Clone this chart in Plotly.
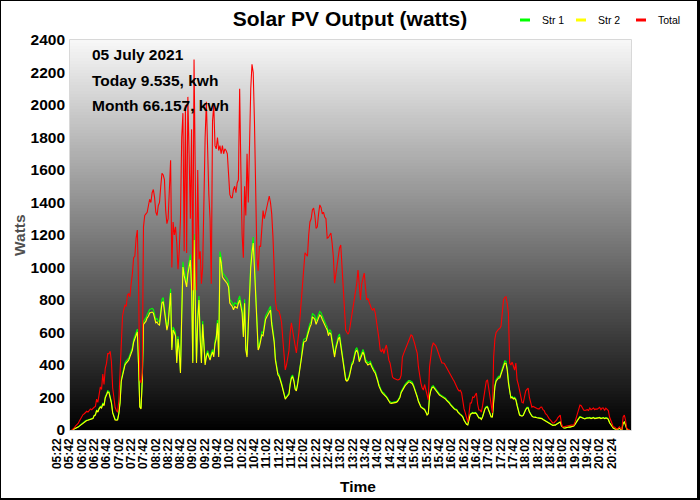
import plotly.graph_objects as go

# ---------------- data ----------------
tick_labels = ["05:22", "05:42", "06:02", "06:22", "06:42", "07:02", "07:22", "07:42",
               "08:02", "08:22", "08:42", "09:02", "09:22", "09:42", "10:02", "10:22",
               "10:42", "11:02", "11:22", "11:42", "12:02", "12:22", "12:42", "13:02",
               "13:22", "13:42", "14:02", "14:22", "14:42", "15:02", "15:22", "15:42",
               "16:02", "16:22", "16:42", "17:02", "17:22", "17:42", "18:02", "18:22",
               "18:42", "19:02", "19:22", "19:42", "20:02", "20:24"]
tick_every = 10  # one label every 10 samples (2-minute samples)

total = [
    0, 5, 15, 25, 30, 40, 55, 70, 85, 95,
    100, 105, 115, 110, 120, 130, 125, 135, 140, 145,
    190, 170, 230, 265, 250, 345, 280, 380, 410, 470,
    470, 485, 420, 260, 200, 140, 120, 110, 180, 330,
    560, 700, 740, 770, 760, 830, 840, 820, 900, 960,
    1060, 1070, 1180, 1230, 900, 310, 290, 350, 1250, 1320,
    1330, 1340, 1380, 1420, 1400, 1460, 1480, 1430, 1340, 1320,
    1380, 1400, 1500, 1580, 1570, 1540, 1350, 1270, 1300, 1480,
    1660, 1000, 1280, 1200, 1250, 1150, 990, 1100, 1300, 1800,
    1950, 1100, 2000, 1090, 2050, 1700, 1300, 1850, 860, 2280,
    1400, 860, 1600, 1050, 1100, 900, 1000, 1500, 1800, 2020,
    1700, 1450, 1300, 900, 1900, 2000, 1750, 1730, 1800, 1720,
    1750, 1700, 1750, 1700, 1730, 1720, 1700, 1560, 1450, 1430,
    1430, 1480, 1500, 1460, 1520, 1540, 2100, 1600, 1200, 1060,
    1500, 1320, 1700, 1400, 1800, 2100, 2250, 2200, 1900, 1400,
    1060, 980, 1130, 1130, 1250, 1350, 1300, 1340, 1380, 1415,
    1440, 1400, 1330, 1190, 1000, 800, 740, 735, 730, 700,
    660, 560, 430, 370, 400, 450, 490, 600, 660, 610,
    560, 500, 474, 540, 600, 700, 790, 904, 1000, 1090,
    1080, 1070, 1200, 1280, 1300, 1354, 1366, 1320, 1240, 1250,
    1330, 1385, 1370, 1330, 1340, 1310, 1300, 1180, 1185, 1200,
    1212, 1150, 1065, 904, 960, 1030, 1089, 1120, 1138, 1000,
    850, 757, 615, 600, 590, 610, 660, 720, 760, 820,
    880, 904, 985, 880, 800, 900, 940, 966, 880, 800,
    810, 790, 770, 745, 738, 750, 720, 670, 634, 560,
    492, 480, 500, 470, 500, 523, 480, 430, 412, 370,
    326, 318, 315, 310, 308, 310, 315, 338, 449, 470,
    490, 511, 530, 550, 566, 585, 580, 560, 530, 500,
    474, 388, 330, 289, 260, 246, 280, 250, 203, 185,
    388, 470, 511, 535, 530, 520, 500, 480, 449, 430,
    412, 412, 410, 395, 380, 370, 357, 340, 320, 312,
    300, 280, 265, 250, 240, 245, 228, 166, 130, 105,
    74, 49, 100, 166, 166, 203, 200, 215, 228, 160,
    123, 123, 110, 150, 200, 260, 300, 308, 250, 185,
    130, 105, 449, 560, 600, 615, 620, 625, 640, 720,
    800, 815, 820, 780, 720, 412, 400, 418, 390, 369,
    412, 308, 280, 246, 200, 170, 166, 210, 240, 250,
    258, 200, 160, 141, 145, 140, 135, 135, 130, 130,
    140, 141, 125, 120, 100, 95, 80, 70, 62, 50,
    43, 45, 50, 60, 75, 85, 92, 40, 18, 20,
    22, 25, 25, 28, 28, 30, 30, 31, 50, 80,
    105, 130, 154, 150, 135, 123, 120, 125, 125, 120,
    135, 125, 128, 135, 125, 130, 128, 135, 140, 125,
    135, 135, 120, 135, 130, 120, 80, 55, 30, 20,
    18, 12, 5, 12, 20, 10, 5, 80, 92, 60, 10, 5, 0,
]

str2 = [
    0, 3, 6, 10, 14, 18, 24, 30, 36, 42,
    50, 55, 58, 60, 62, 65, 68, 70, 88, 92,
    120, 110, 130, 141, 135, 160, 150, 197, 215, 234,
    230, 200, 166, 105, 80, 62, 60, 62, 100, 166,
    300, 340, 380, 400, 412, 420, 430, 450, 470, 492,
    540, 560, 590, 603, 400, 141, 130, 300, 650, 657,
    670, 690, 700, 720, 722, 726, 720, 690, 660, 665,
    650, 646, 720, 781, 790, 740, 680, 615, 650, 760,
    843, 492, 615, 600, 580, 412, 560, 480, 351, 700,
    1003, 950, 900, 880, 960, 1000, 1046, 880, 412, 1169,
    650, 412, 677, 800, 560, 412, 650, 520, 400, 450,
    474, 450, 430, 460, 480, 450, 530, 560, 657, 450,
    1065, 1030, 942, 930, 920, 910, 900, 880, 781, 770,
    760, 740, 760, 755, 750, 780, 800, 760, 720, 572,
    780, 492, 449, 640, 880, 1000, 1089, 1151, 1000, 800,
    650, 492, 510, 560, 585, 580, 650, 680, 695, 710,
    730, 738, 650, 600, 540, 430, 369, 340, 330, 310,
    280, 250, 220, 190, 200, 210, 220, 280, 320, 326,
    300, 250, 240, 280, 330, 380, 430, 510, 541, 545,
    550, 580, 610, 634, 650, 695, 690, 680, 650, 665,
    690, 708, 700, 680, 660, 640, 630, 615, 580, 600,
    590, 540, 492, 449, 500, 540, 560, 572, 520, 450,
    388, 340, 308, 300, 308, 330, 370, 400, 412, 450,
    480, 492, 470, 420, 440, 470, 480, 460, 420, 412,
    400, 405, 410, 390, 369, 360, 350, 330, 300, 270,
    246, 235, 225, 220, 210, 203, 190, 175, 166, 164,
    165, 166, 166, 170, 175, 185, 200, 230, 246, 260,
    270, 280, 290, 295, 295, 290, 285, 270, 250, 225,
    203, 175, 155, 141, 135, 130, 125, 110, 92, 100,
    203, 240, 260, 265, 255, 240, 230, 220, 215, 210,
    205, 200, 198, 190, 180, 175, 166, 155, 145, 135,
    130, 125, 123, 110, 100, 95, 88, 80, 60, 45,
    35, 31, 60, 95, 100, 105, 102, 105, 100, 85,
    74, 74, 65, 80, 110, 130, 140, 141, 120, 95,
    80, 80, 180, 265, 300, 310, 320, 320, 340, 370,
    390, 412, 410, 370, 289, 230, 197, 200, 190, 195,
    185, 150, 120, 92, 88, 85, 90, 110, 125, 135,
    135, 110, 95, 85, 80, 80, 78, 75, 74, 74,
    72, 70, 65, 60, 55, 50, 45, 40, 35, 30,
    28, 30, 30, 35, 40, 45, 49, 25, 15, 12,
    12, 15, 15, 18, 18, 20, 22, 25, 35, 50,
    60, 70, 80, 78, 72, 70, 68, 72, 74, 72,
    75, 70, 72, 76, 70, 72, 74, 75, 76, 70,
    74, 75, 70, 74, 72, 65, 45, 31, 20, 12,
    8, 5, 3, 6, 10, 5, 3, 40, 49, 30, 5, 2, 0,
]

str1 = [
    0, 3, 7, 11, 15, 19, 25, 32, 38, 44,
    52, 57, 60, 62, 64, 67, 70, 72, 90, 95,
    124, 114, 134, 146, 140, 166, 156, 204, 222, 242,
    238, 208, 172, 110, 84, 66, 63, 66, 105, 172,
    310, 352, 392, 412, 425, 433, 443, 464, 484, 507,
    556, 577, 608, 621, 412, 146, 135, 310, 668, 676,
    690, 710, 722, 742, 744, 748, 742, 712, 680, 686,
    670, 666, 742, 805, 815, 762, 701, 634, 670, 783,
    869, 507, 634, 618, 598, 425, 577, 495, 362, 722,
    1035, 980, 928, 907, 990, 1031, 1080, 907, 425, 1205,
    670, 425, 698, 825, 577, 425, 670, 536, 412, 464,
    489, 464, 443, 474, 495, 464, 546, 577, 677, 464,
    1098, 1062, 971, 959, 948, 938, 928, 907, 805, 794,
    783, 763, 783, 778, 773, 804, 825, 783, 742, 590,
    804, 507, 463, 660, 907, 1031, 1122, 1187, 1031, 825,
    670, 507, 526, 577, 603, 598, 670, 701, 716, 732,
    752, 761, 670, 618, 557, 443, 380, 350, 340, 320,
    289, 258, 227, 196, 206, 216, 227, 289, 330, 336,
    309, 258, 247, 289, 340, 392, 443, 526, 558, 562,
    567, 598, 629, 654, 670, 716, 711, 701, 670, 686,
    711, 730, 722, 701, 680, 660, 650, 634, 598, 618,
    608, 557, 507, 463, 515, 557, 577, 590, 536, 464,
    400, 350, 318, 309, 318, 340, 381, 412, 425, 464,
    495, 507, 485, 433, 454, 485, 495, 474, 433, 425,
    412, 418, 423, 402, 380, 371, 361, 340, 309, 278,
    254, 242, 232, 227, 216, 209, 196, 180, 171, 169,
    170, 171, 171, 175, 180, 191, 206, 237, 254, 268,
    278, 289, 299, 304, 304, 299, 294, 278, 258, 232,
    209, 180, 160, 145, 139, 134, 129, 113, 95, 103,
    209, 247, 268, 273, 263, 247, 237, 227, 222, 216,
    211, 206, 204, 196, 186, 180, 171, 160, 149, 139,
    134, 129, 127, 113, 103, 98, 91, 82, 62, 46,
    36, 32, 62, 98, 103, 108, 105, 108, 103, 88,
    76, 76, 67, 82, 113, 134, 144, 145, 124, 98,
    82, 82, 185, 273, 309, 320, 330, 330, 350, 381,
    402, 425, 423, 381, 298, 237, 203, 206, 196, 201,
    191, 155, 124, 95, 91, 88, 93, 113, 129, 139,
    139, 113, 98, 88, 82, 82, 80, 77, 76, 76,
    74, 72, 67, 62, 57, 52, 46, 41, 36, 31,
    29, 31, 31, 36, 41, 46, 50, 26, 15, 12,
    12, 15, 15, 19, 19, 21, 23, 26, 36, 52,
    62, 72, 82, 80, 74, 72, 70, 74, 76, 74,
    77, 72, 74, 78, 72, 74, 76, 77, 78, 72,
    76, 77, 72, 76, 74, 67, 46, 32, 21, 12,
    8, 5, 3, 6, 10, 5, 3, 41, 50, 31, 5, 2, 0,
]

series_names = ["Str 1", "Str 2", "Total"]
series_colors = ["#00ff00", "#ffff00", "#ff0000"]
info_lines = ["05 July 2021", "Today 9.535, kwh", "Month 66.157, kwh"]

# ---------------- layout geometry (pixels) ----------------
W, H = 700, 500
L, R, T, B = 70, 631, 40, 430
FONT = "Liberation Sans, Arial, sans-serif"


def px(X):
    return (X - L) / (R - L)


def py(Y):
    return (B - Y) / (B - T)


fig = go.Figure()
samples = list(range(len(total)))
for name, vals, col in zip(series_names, [str1, str2, total], series_colors):
    fig.add_trace(go.Scatter(x=samples, y=vals, mode="lines", name=name,
                             line=dict(color=col, width=1.1), showlegend=False,
                             hoverinfo="skip"))

shapes = []
# vertical gradient background of the plot area
NB = 130
for k in range(NB):
    frac = (k + 0.5) / NB
    g = int(round(248 * frac))
    shapes.append(dict(type="rect", xref="paper", yref="paper", x0=0, x1=1,
                       y0=k / NB, y1=min(1, (k + 1) / NB + 0.003),
                       fillcolor=f"rgb({g},{g},{g})", line=dict(width=0), layer="below"))
# light plot frame
shapes.append(dict(type="rect", xref="paper", yref="paper", x0=px(L - 0.5), x1=px(R + 0.5),
                   y0=py(B + 0.5), y1=py(T - 0.5), line=dict(color="#d8d8d8", width=1),
                   fillcolor="rgba(0,0,0,0)", layer="above"))
# outer black image border
shapes += [
    dict(type="line", xref="paper", yref="paper", x0=px(0.5), x1=px(0.5), y0=py(0), y1=py(H), line=dict(color="black", width=1)),
    dict(type="line", xref="paper", yref="paper", x0=px(0), x1=px(W), y0=py(0.5), y1=py(0.5), line=dict(color="black", width=1)),
    dict(type="line", xref="paper", yref="paper", x0=px(W - 1.5), x1=px(W - 1.5), y0=py(0), y1=py(H), line=dict(color="black", width=3)),
    dict(type="line", xref="paper", yref="paper", x0=px(0), x1=px(W), y0=py(H - 1), y1=py(H - 1), line=dict(color="black", width=2)),
]

annotations = []
# info text lines
for i, txt in enumerate(info_lines):
    annotations.append(dict(text=txt, xref="paper", yref="paper", x=px(90), y=py(55 + 25.5 * i),
                            xanchor="left", yanchor="middle", showarrow=False,
                            font=dict(family=FONT, size=15.5, color="black", weight="bold")))
# axis titles
annotations.append(dict(text="Time", xref="paper", yref="paper", x=px(358), y=py(486),
                        xanchor="center", yanchor="middle", showarrow=False,
                        font=dict(family=FONT, size=15.5, color="black", weight="bold")))
annotations.append(dict(text="Watts", xref="paper", yref="paper", x=px(19), y=py(235),
                        xanchor="center", yanchor="middle", showarrow=False, textangle=-90,
                        font=dict(family=FONT, size=15.5, color="#505050", weight="bold")))
# legend (custom, matching the short line keys)
leg = [(520, 540), (576, 596), (636, 656)]
for (lx, tx), name, col in zip(leg, series_names, series_colors):
    shapes.append(dict(type="line", xref="paper", yref="paper", x0=px(lx), x1=px(lx + 10),
                       y0=py(20), y1=py(20), line=dict(color=col, width=3)))
    annotations.append(dict(text=name, xref="paper", yref="paper", x=px(tx), y=py(20),
                            xanchor="left", yanchor="middle", showarrow=False,
                            font=dict(family=FONT, size=10.5, color="black")))

fig.update_layout(
    width=W, height=H,
    margin=dict(l=L, r=W - R, t=T, b=H - B, pad=0),
    paper_bgcolor="white", plot_bgcolor="black",
    showlegend=False,
    font=dict(family=FONT, color="black"),
    title=dict(text="Solar PV Output (watts)", x=0.5, xref="container", xanchor="center",
               y=1 - 18.5 / H, yref="container", yanchor="middle",
               font=dict(family=FONT, size=21, color="black", weight="bold")),
    xaxis=dict(range=[-1.6, 453.4], tickmode="array",
               tickvals=[i * tick_every for i in range(len(tick_labels))], ticktext=tick_labels,
               tickangle=-90, tickfont=dict(family=FONT, size=12, color="black", weight="bold"),
               ticklabelshift=-15, ticklabelstandoff=5, ticks="",
               showgrid=False, zeroline=False, showline=False, fixedrange=True),
    yaxis=dict(range=[0, 2400], tick0=0, dtick=200, ticks="",
               tickfont=dict(family=FONT, size=15.5, color="black", weight="bold"),
               ticklabelstandoff=4, showgrid=False, zeroline=False, showline=False, fixedrange=True),
    shapes=shapes, annotations=annotations,
)

fig.write_html("out.html")
